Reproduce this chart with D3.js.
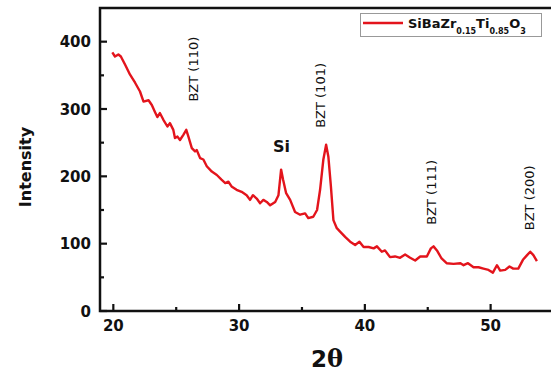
<!DOCTYPE html>
<html>
<head>
<meta charset="utf-8">
<script src="https://cdn.jsdelivr.net/npm/d3@7"></script>
<style>
  body { margin: 0; background: #fff; }
  svg { display: block; }
</style>
</head>
<body>
<div id="chart"></div>
<script>
// XRD pattern
const twoTheta = [19.92, 20.13, 20.4, 20.6, 20.93, 21.33, 21.73, 22.12, 22.4, 22.8,
  23.06, 23.3, 23.5, 23.7, 23.98, 24.3, 24.5, 24.77, 24.9, 25.1,
  25.3, 25.58, 25.8, 25.97, 26.24, 26.5, 26.63, 26.9, 27.16, 27.43,
  27.83, 28.23, 28.6, 28.9, 29.15, 29.4, 29.8, 30.2, 30.6, 30.87,
  31.1, 31.4, 31.67, 31.93, 32.2, 32.47, 32.87, 33.13, 33.34, 33.5,
  33.74, 34.06, 34.45, 34.85, 35.25, 35.5, 35.9, 36.2, 36.44, 36.7,
  36.92, 37.1, 37.3, 37.5, 37.77, 38.03, 38.43, 38.83, 39.23, 39.57,
  39.9, 40.3, 40.7, 40.96, 41.35, 41.6, 42.0, 42.4, 42.8, 43.2,
  43.6, 44.0, 44.4, 44.93, 45.25, 45.46, 45.73, 46.1, 46.5, 47.05,
  47.6, 47.85, 48.2, 48.64, 49.04, 49.43, 49.83, 50.18, 50.5, 50.76,
  51.16, 51.5, 51.8, 52.2, 52.57, 52.9, 53.15, 53.4, 53.68];
const intensity = [384, 378, 381, 378, 366, 351, 339, 326, 311, 313,
  306, 296, 288, 294, 284, 274, 279, 269, 257, 259,
  254, 262, 269, 259, 242, 237, 239, 227, 225, 215,
  207, 202, 195, 190, 192, 185, 180, 177, 172, 165,
  172, 167, 160, 165, 162, 157, 162, 172, 210, 195,
  175, 165, 147, 143, 145, 138, 140, 150, 180, 225,
  247, 229, 185, 135, 123, 118, 110, 103, 98, 103,
  95, 95, 93, 96, 88, 90, 80, 81, 79, 84,
  79, 75, 81, 81, 93, 96, 90, 78, 71, 70,
  71, 68, 71, 65, 65, 63, 61, 57, 68, 60,
  61, 66, 63, 63, 76, 83, 88, 83, 74];

const xTicks = [20, 30, 40, 50];
const xMinor = [25, 35, 45];
const yTicks = [0, 100, 200, 300, 400];
const yMinor = [50, 150, 250, 350];

// peak labels: text, 2theta of label baseline, intensity where label starts
const peakNames = ["BZT (110)", "BZT (101)", "BZT (111)", "BZT (200)"];
const peakPos = [26.73, 36.8, 45.66, 53.42];
const peakLevel = [311, 272, 128, 120];

const width = 551, height = 372;
const svg = d3.select("#chart").append("svg")
  .attr("width", width)
  .attr("height", height);

const x = d3.scaleLinear().domain([18.94, 54.96]).range([100, 553]);
const y = d3.scaleLinear().domain([0, 450]).range([311, 8]);

const data = twoTheta.map((t, i) => ({ t: t, v: intensity[i] }));

// frame
svg.append("path")
  .attr("d", "M" + x.range()[1] + "," + y.range()[1] + "H" + x.range()[0] + "V" + y.range()[0] + "H" + x.range()[1])
  .attr("fill", "none")
  .attr("stroke", "#111")
  .attr("stroke-width", 2.5);

// ticks pointing inward
svg.selectAll(".xt").data(xTicks.concat(xMinor)).enter().append("line")
  .attr("x1", d => x(d)).attr("x2", d => x(d))
  .attr("y1", y(0)).attr("y2", d => y(0) - (xTicks.includes(d) ? 7 : 4))
  .attr("stroke", "#111").attr("stroke-width", 2.2);

svg.selectAll(".yt").data(yTicks.concat(yMinor)).enter().append("line")
  .attr("x1", x.range()[0]).attr("x2", d => x.range()[0] + (yTicks.includes(d) ? 7 : 4))
  .attr("y1", d => y(d)).attr("y2", d => y(d))
  .attr("stroke", "#111").attr("stroke-width", 2.2);

svg.selectAll(".xl").data(xTicks).enter().append("text")
  .attr("x", d => x(d)).attr("y", 331)
  .attr("text-anchor", "middle")
  .style("font-family", "DejaVu Sans").style("font-weight", "bold").style("font-size", "15px")
  .attr("fill", "#111")
  .text(d => d);

svg.selectAll(".yl").data(yTicks).enter().append("text")
  .attr("x", 91).attr("y", d => y(d) + 5.5)
  .attr("text-anchor", "end")
  .style("font-family", "DejaVu Sans").style("font-weight", "bold").style("font-size", "15px")
  .attr("fill", "#111")
  .text(d => d);

// axis titles
svg.append("text")
  .attr("transform", "translate(31,167) rotate(-90)")
  .attr("text-anchor", "middle")
  .style("font-family", "DejaVu Sans").style("font-weight", "bold").style("font-size", "16px")
  .attr("fill", "#111")
  .text("Intensity");

const xt = svg.append("text")
  .attr("x", 327).attr("y", 367)
  .attr("text-anchor", "middle")
  .style("font-weight", "bold").style("font-size", "23px")
  .attr("fill", "#111");
xt.append("tspan").style("font-family", "DejaVu Sans").text("2");
xt.append("tspan").style("font-family", "DejaVu Serif").style("font-size", "24px").text("θ");

// the pattern
const line = d3.line().x(d => x(d.t)).y(d => y(d.v));
svg.append("path")
  .datum(data)
  .attr("d", line)
  .attr("fill", "none")
  .attr("stroke", "#e3141c")
  .attr("stroke-width", 2.4)
  .attr("stroke-linejoin", "round");

// peak labels
svg.selectAll(".pk").data(peakNames).enter().append("text")
  .attr("transform", (d, i) => "translate(" + x(peakPos[i]) + "," + y(peakLevel[i]) + ") rotate(-90)")
  .style("font-family", "DejaVu Sans").style("font-size", "13px")
  .attr("fill", "#111")
  .text(d => d);

svg.append("text")
  .attr("x", 273).attr("y", 152)
  .style("font-family", "DejaVu Sans").style("font-weight", "bold").style("font-size", "16px")
  .attr("fill", "#111")
  .text("Si");

// legend
const lg = svg.append("g");
lg.append("rect")
  .attr("x", 360.5).attr("y", 13.5).attr("width", 181).attr("height", 23)
  .attr("fill", "#fff").attr("stroke", "#999").attr("stroke-width", 1);
lg.append("line")
  .attr("x1", 363).attr("x2", 403).attr("y1", 23).attr("y2", 23)
  .attr("stroke", "#e3141c").attr("stroke-width", 2.3);
const lt = lg.append("text")
  .attr("x", 408).attr("y", 28)
  .style("font-family", "DejaVu Sans").style("font-weight", "bold").style("font-size", "13px")
  .attr("fill", "#111");
lt.append("tspan").text("SiBaZr");
lt.append("tspan").attr("dy", 6).style("font-size", "8px").text("0.15");
lt.append("tspan").attr("dy", -6).text("Ti");
lt.append("tspan").attr("dy", 6).style("font-size", "8px").text("0.85");
lt.append("tspan").attr("dy", -6).text("O");
lt.append("tspan").attr("dy", 6).style("font-size", "8px").text("3");
</script>
</body>
</html>
